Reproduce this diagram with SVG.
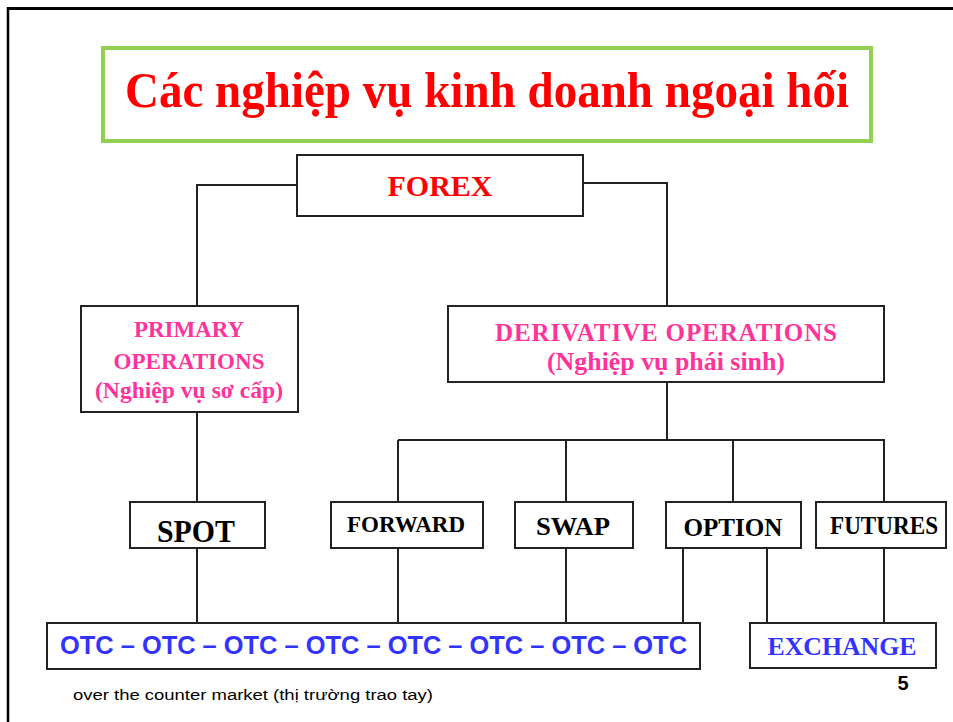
<svg xmlns="http://www.w3.org/2000/svg" width="953" height="722" viewBox="0 0 953 722">
<style>
.box{fill:#fff;stroke:#222;stroke-width:2}
.ln{fill:none;stroke:#222;stroke-width:2}
.serif{font-family:"Liberation Serif","Times New Roman",serif;font-weight:bold}
.sans{font-family:"Liberation Sans",Arial,sans-serif}
.pink{fill:#ff3399}
.red{fill:#ff0000}
.blk{fill:#000}
.blue{fill:#3333ff}
</style>
<rect width="953" height="722" fill="#fff"/>
<g id="frame">
<line x1="7" y1="8.5" x2="953" y2="8.5" stroke="#000" stroke-width="3"/>
<line x1="8" y1="7" x2="8" y2="722" stroke="#000" stroke-width="2.5"/>
</g>
<g id="title">
<rect x="103" y="48" width="768" height="93" fill="#fff" stroke="#92d050" stroke-width="4"/>
<text x="487" y="107" class="serif red" font-size="50" text-anchor="middle" textLength="724" lengthAdjust="spacingAndGlyphs">Các nghiệp vụ kinh doanh ngoại hối</text>
</g>
<g id="connectors">
<polyline class="ln" points="297,185 197,185 197,306"/>
<polyline class="ln" points="583,183 667,183 667,306"/>
<line class="ln" x1="197" y1="412" x2="197" y2="502"/>
<line class="ln" x1="667" y1="382" x2="667" y2="440"/>
<line class="ln" x1="398" y1="440" x2="885" y2="440"/>
<line class="ln" x1="398" y1="440" x2="398" y2="502"/>
<line class="ln" x1="566" y1="440" x2="566" y2="502"/>
<line class="ln" x1="733" y1="440" x2="733" y2="502"/>
<line class="ln" x1="884" y1="440" x2="884" y2="502"/>
<line class="ln" x1="197" y1="548" x2="197" y2="623"/>
<line class="ln" x1="398" y1="548" x2="398" y2="623"/>
<line class="ln" x1="566" y1="548" x2="566" y2="623"/>
<line class="ln" x1="683" y1="548" x2="683" y2="623"/>
<line class="ln" x1="767" y1="548" x2="767" y2="623"/>
<line class="ln" x1="884" y1="548" x2="884" y2="623"/>
</g>
<g id="forex">
<rect class="box" x="297" y="155" width="286" height="61"/>
<text x="440" y="196" class="serif red" font-size="30" text-anchor="middle" textLength="105" lengthAdjust="spacingAndGlyphs">FOREX</text>
</g>
<g id="primary">
<rect class="box" x="81" y="306" width="217" height="106"/>
<text x="189" y="337" class="serif pink" font-size="23" text-anchor="middle" textLength="110" lengthAdjust="spacing">PRIMARY</text>
<text x="189" y="369" class="serif pink" font-size="23" text-anchor="middle" textLength="151" lengthAdjust="spacing">OPERATIONS</text>
<text x="189" y="398" class="serif pink" font-size="23" text-anchor="middle" textLength="188" lengthAdjust="spacingAndGlyphs">(Nghiệp vụ sơ cấp)</text>
</g>
<g id="derivative">
<rect class="box" x="448" y="306" width="436" height="76"/>
<text x="666" y="341" class="serif pink" font-size="25" text-anchor="middle" textLength="342" lengthAdjust="spacing">DERIVATIVE OPERATIONS</text>
<text x="666" y="370" class="serif pink" font-size="25" text-anchor="middle" textLength="238" lengthAdjust="spacingAndGlyphs">(Nghiệp vụ phái sinh)</text>
</g>
<g id="spot">
<rect class="box" x="130" y="502" width="135" height="46"/>
<text x="196" y="542" class="serif blk" font-size="31" text-anchor="middle" textLength="78" lengthAdjust="spacingAndGlyphs">SPOT</text>
</g>
<g id="forward">
<rect class="box" x="331" y="502" width="152" height="46"/>
<text x="406" y="532" class="serif blk" font-size="24" text-anchor="middle" textLength="118" lengthAdjust="spacingAndGlyphs">FORWARD</text>
</g>
<g id="swap">
<rect class="box" x="515" y="502" width="118" height="46"/>
<text x="573" y="535" class="serif blk" font-size="25" text-anchor="middle" textLength="74" lengthAdjust="spacingAndGlyphs">SWAP</text>
</g>
<g id="option">
<rect class="box" x="666" y="502" width="135" height="46"/>
<text x="733" y="536" class="serif blk" font-size="26" text-anchor="middle" textLength="99" lengthAdjust="spacingAndGlyphs">OPTION</text>
</g>
<g id="futures">
<rect class="box" x="816" y="502" width="130" height="46"/>
<text x="884" y="534" class="serif blk" font-size="25" text-anchor="middle" textLength="108" lengthAdjust="spacingAndGlyphs">FUTURES</text>
</g>
<g id="otc">
<rect class="box" x="47" y="623" width="653" height="46"/>
<text x="60" y="654" class="sans blue" font-size="26" font-weight="bold" textLength="627" lengthAdjust="spacingAndGlyphs">OTC – OTC – OTC – OTC – OTC – OTC – OTC – OTC</text>
</g>
<g id="exchange">
<rect class="box" x="750" y="623" width="186" height="45"/>
<text x="842" y="655" class="serif blue" font-size="26" text-anchor="middle" textLength="149" lengthAdjust="spacingAndGlyphs">EXCHANGE</text>
</g>
<g id="footer">
<text x="73" y="700" class="sans blk" font-size="15.5" textLength="360" lengthAdjust="spacingAndGlyphs">over the counter market (thị trường trao tay)</text>
<text x="903" y="690" class="sans blk" font-size="20" font-weight="bold" text-anchor="middle">5</text>
</g>
</svg>
